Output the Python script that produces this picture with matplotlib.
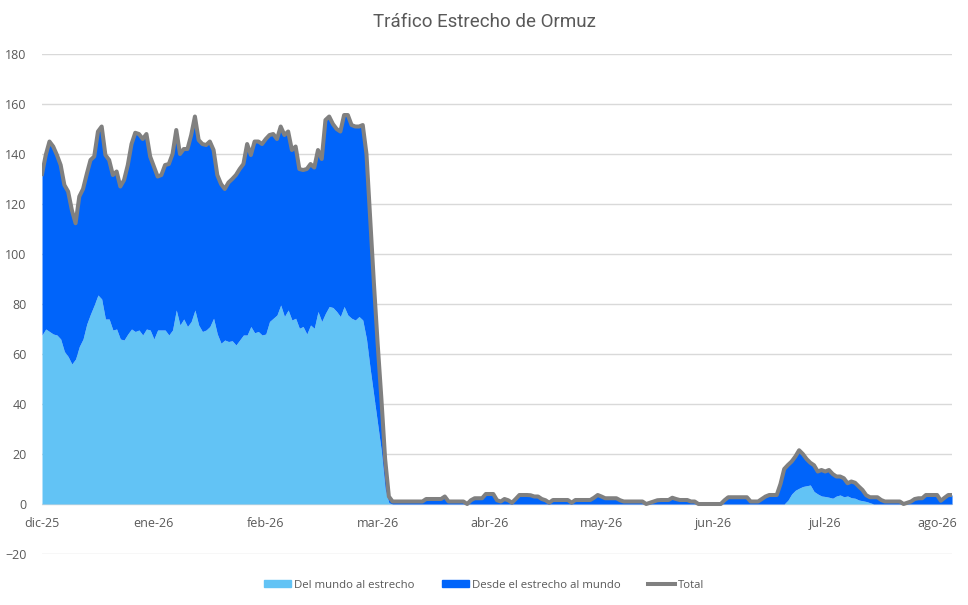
import matplotlib
matplotlib.use("Agg")
import matplotlib.pyplot as plt
from matplotlib.patches import Patch
from matplotlib.lines import Line2D
import numpy as np

# valores, un punto por dia (eje de categorias)
total = [
    132, 139.6, 145, 143, 139.6, 135.6, 127.6, 125, 117.6, 112.3,
    123, 126, 132, 137.6, 139, 149, 151, 139.6, 137.6, 131.6,
    133, 127, 129.6, 135.6, 144, 148.5, 148, 146, 148, 139,
    135, 131, 131.6, 135.6, 136, 140, 149.6, 140, 142, 142,
    147.6, 155, 145.6, 144, 143.6, 145, 141.6, 131.6, 128, 126,
    128.6, 130, 131.6, 134, 136, 144, 139.6, 145, 145, 144,
    146, 147.6, 148, 146, 151, 147.6, 149, 141.6, 143, 134,
    133.6, 134, 136, 134.6, 141.6, 138, 153.6, 155, 152, 150,
    149, 155.6, 155.6, 151.6, 151, 151, 151.6, 140, 114, 88,
    64, 42, 18, 3, 1, 1, 1, 1, 1, 1,
    1, 1, 1, 2, 2, 2, 2, 2, 3, 1,
    1, 1, 1, 1, 0, 1.5, 2.3, 2.3, 2.3, 4,
    4, 4, 1.5, 1, 2, 1.5, 0.5, 2, 3.6, 3.6,
    3.6, 3.5, 3, 3, 2, 1.5, 0.5, 1.6, 1.6, 1.6,
    1.6, 1.6, 0.5, 1.6, 1.6, 1.6, 1.6, 1.6, 2.5, 3.6,
    3, 2.3, 2.3, 2.3, 2.3, 1.5, 1, 1, 1, 1,
    1, 1, 0, 0.5, 1, 1.5, 1.6, 1.6, 1.6, 2.5,
    2, 1.6, 1.6, 1.6, 1, 1, 0, 0, 0, 0,
    0, 0, 0, 1.5, 2.7, 2.7, 2.7, 2.7, 2.7, 2.7,
    1, 1, 1, 2, 3, 3.6, 3.6, 3.6, 8, 14,
    15.6, 17, 19, 21.5, 20, 18, 16.5, 15.5, 13, 13.6,
    13, 13.6, 12, 11, 11, 10.3, 8.3, 9, 8.5, 7,
    5.6, 3.5, 2.7, 2.7, 2.7, 1.6, 1, 1, 1, 1,
    1, 0, 0.5, 1, 2, 2.3, 2.3, 3.6, 3.6, 3.6,
    3.6, 1.3, 2.5, 3.6, 3.6,
]

del_mundo = [
    67.6, 70, 69, 68, 67.6, 66, 61, 59, 56, 58,
    63, 66, 72, 76, 79.6, 83.6, 82, 74, 74, 69.6,
    70, 66, 65.6, 68, 70, 69, 69.6, 67.6, 70, 69.6,
    66, 69.6, 69.6, 69.6, 67.6, 69.6, 77.6, 71.6, 74, 71,
    73, 77.6, 71.6, 69, 69.6, 71, 74.3, 68, 64.3, 65.6,
    65, 65.3, 63.6, 65.6, 67.6, 67.6, 71, 68.5, 69, 67.6,
    68, 73, 74.3, 75.6, 79.6, 75, 77.6, 73.6, 74.3, 70.3,
    71, 68, 71.6, 70.3, 77, 73, 76.3, 79, 78.6, 77,
    75, 79, 75.6, 74.3, 73.6, 75, 73.6, 66, 54, 43,
    32, 21, 6, 0.5, 0, 0, 0, 0, 0, 0,
    0, 0, 0, 0, 0, 0, 0, 0, 0, 0,
    0, 0, 0, 0, 0, 0, 0, 0, 0, 0,
    0, 0, 0, 0, 0, 0, 0, 0, 0, 0,
    0, 0, 0, 0, 0, 0, 0, 0, 0, 0,
    0, 0, 0, 0, 0, 0, 0, 0, 0, 0,
    0, 0, 0, 0, 0, 0, 0, 0, 0, 0,
    0, 0, 0, 0, 0, 0, 0, 0, 0, 0,
    0, 0, 0, 0, 0, 0, 0, 0, 0, 0,
    0, 0, 0, 0, 0, 0, 0, 0, 0, 0,
    0, 0, 0, 0, 0, 0, 0, 0, 0, 0,
    1.5, 4, 5.5, 6.3, 7, 7.3, 7.6, 5, 4, 3.2,
    3, 2.7, 2.3, 3.2, 3.6, 2.9, 3.2, 2.5, 2.3, 1.6,
    1.3, 1, 0.5, 0, 0, 0, 0, 0, 0, 0,
    0, 0, 0, 0, 0, 0, 0, 0, 0, 0,
    0, 0, 0, 0, 0,
]

meses = ["dic-25", "ene-26", "feb-26", "mar-26", "abr-26",
         "may-26", "jun-26", "jul-26", "ago-26"]

plt.rcParams['font.family'] = ['Open Sans', 'DejaVu Sans']

x = np.arange(len(total))
c_claro = "#62C3F5"
c_oscuro = "#0064FA"
c_total = "#808080"
c_texto = "#595959"

fig = plt.figure(figsize=(9.68, 6.05), dpi=100)
ax = fig.add_axes([0.0434, 0.0843, 0.9401, 0.8264])

ax.fill_between(x, 0, del_mundo, color=c_claro, linewidth=0)
ax.fill_between(x, del_mundo, total, color=c_oscuro, linewidth=0)
ax.plot(x, total, color=c_total, linewidth=2.9, solid_joinstyle='round')

ax.set_xlim(0, len(total) - 1)
ax.set_ylim(-20, 180)
ax.set_yticks(range(-20, 181, 20))
ax.set_xticks(range(0, 30 * len(meses), 30))
ax.set_xticklabels(meses)

ax.grid(axis='y', color="#D9D9D9", linewidth=1)
ax.set_axisbelow(True)
for s in ['top', 'right', 'left']:
    ax.spines[s].set_visible(False)
ax.spines['bottom'].set_position(('data', 0))
ax.spines['bottom'].set_color("#D9D9D9")
ax.spines['bottom'].set_zorder(0)
ax.tick_params(axis='both', length=0, labelsize=9, labelcolor=c_texto)
ax.tick_params(axis='y', pad=11)
ax.tick_params(axis='x', pad=9)

fig.suptitle("Tráfico Estrecho de Ormuz", x=0.5, y=0.978, fontsize=13.5,
             color=c_texto, family=['Roboto', 'Open Sans'])

handles = [Patch(color=c_claro), Patch(color=c_oscuro),
           Line2D([], [], color=c_total, linewidth=2.9)]
labels = ["Del mundo al estrecho", "Desde el estrecho al mundo", "Total"]
fig.legend(handles, labels, loc='center', bbox_to_anchor=(0.5, 0.033),
           ncol=3, frameon=False, fontsize=8.2, labelcolor=c_texto,
           handlelength=2.4, handleheight=0.6, handletextpad=0.25,
           columnspacing=2.4)

fig.savefig("out.png", dpi=100)
